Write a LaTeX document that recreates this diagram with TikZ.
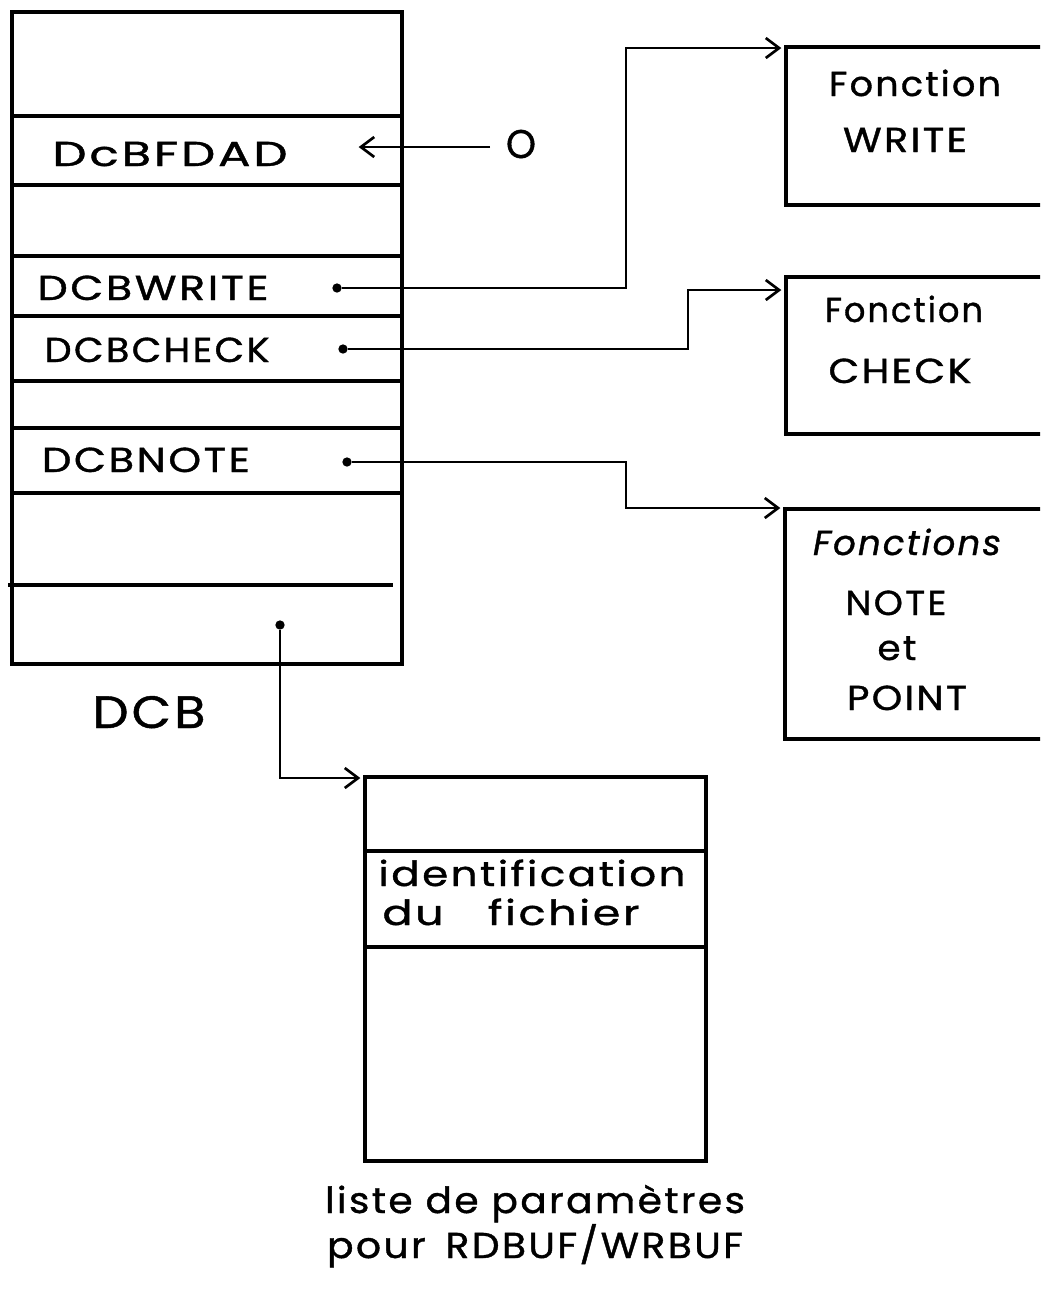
\documentclass[tikz,border=0pt]{standalone}
\usepackage{fontspec}
\setmainfont{Poppins}
\usetikzlibrary{arrows.meta,calc}
\newlength\pxu
\setlength\pxu{0.75pt}
\newcommand\fitw[2]{\resizebox{#1\pxu}{\height}{#2}}
\begin{document}
\begin{tikzpicture}[x=0.75pt,y=-0.75pt,
  box/.style={draw, line width=2.7pt, rectangle, inner sep=0pt, anchor=north west},
  rowline/.style={line width=2.3pt},
  conn/.style={line width=2pt},
  arr/.style={conn, shorten >=2pt, -{Straight Barb[length=10pt,width=15pt,line width=2pt]}},
  dotn/.style={circle, fill, inner sep=0pt, minimum size=7pt},
  txt/.style={inner sep=0pt, anchor=base, font={\fontsize{#1}{#1}\selectfont\addfontfeatures{LetterSpace=6,FakeBold=1}}},
  txt/.default=26,
]
\useasboundingbox (0,0) rectangle (1040,1297);
\clip (0,0) rectangle (1040,1297);

% DCB block
\node[box, minimum width=390*\pxu, minimum height=652*\pxu] (dcb) at (10,10) {};
\draw[rowline] (10,116) -- (400,116);
\draw[rowline] (10,185) -- (400,185);
\draw[rowline] (10,256) -- (400,256);
\draw[rowline] (10,316) -- (400,316);
\draw[rowline] (10,381) -- (400,381);
\draw[rowline] (10,428) -- (400,428);
\draw[rowline] (10,493) -- (400,493);
\draw[rowline] (8,585) -- (393,585);

\node[txt] (fdad) at (170,166) {\fitw{235}{DcBFDAD}};
\node[txt] (lwrite) at (153,300) {\fitw{231}{DCBWRITE}};
\node[txt] (lcheck) at (157,362) {\fitw{225}{DCBCHECK}};
\node[txt] (lnote) at (146,472) {\fitw{208}{DCBNOTE}};
\node[txt=34] (dcblab) at (149,728) {\fitw{113}{DCB}};

% zero arrow
\node[txt=30] (zero) at (521,158) {\fitw{30}{O}};
\coordinate (ot) at (356,147);
\coordinate (os) at (490,147);
\draw[arr] (os) -- (ot);

% function boxes
\node[box, minimum width=260*\pxu, minimum height=158*\pxu] (fw) at (784,45) {};
\node[box, minimum width=260*\pxu, minimum height=157*\pxu] (fc) at (784,275) {};
\node[box, minimum width=261*\pxu, minimum height=230*\pxu] (fn) at (783,507) {};

\node[txt] (fw1) at (915,96) {\fitw{172}{Fonction}};
\node[txt] (fw2) at (905,152) {\fitw{124}{WRITE}};
\node[txt] (fc1) at (904,322) {\fitw{158}{Fonction}};
\node[txt] (fc2) at (900,383) {\fitw{143}{CHECK}};
\node[txt] (fn1) at (907,555) {\fitw{188}{\itshape Fonctions}};
\node[txt] (fn2) at (896,615) {\fitw{101}{NOTE}};
\node[txt] (fn3) at (897,660) {\fitw{39}{et}};
\node[txt] (fn4) at (907,710) {\fitw{120}{POINT}};

% connectors
\node[dotn] (dw) at (337,288) {};
\coordinate (bw) at (626,48);
\draw[arr] (dw) -| (bw) -- (bw -| fw.west);

\node[dotn] (dc) at (343,349) {};
\coordinate (bc) at (688,290);
\draw[arr] (dc) -| (bc) -- (bc -| fc.west);

\node[dotn] (dn) at (347,462) {};
\coordinate (bn) at (626,508);
\draw[arr] (dn) -| (bn) -- (bn -| fn.west);

% parameter list
\node[box, minimum width=341*\pxu, minimum height=384*\pxu] (pl) at (363,775) {};
\draw[rowline] (363,851) -- (704,851);
\draw[rowline] (363,947) -- (704,947);
\node[txt] (id1) at (532,886) {\fitw{307}{identification}};
\node[txt] (id2) at (511,925) {\fitw{257}{du\quad fichier}};

\node[dotn] (dp) at (280,625) {};
\coordinate (bp) at (280,778);
\draw[arr] (dp) -- (bp) -- (bp -| pl.west);

\node[txt=27] (cap1) at (535,1213) {\fitw{420}{liste de paramètres}};
\node[txt=27] (cap2) at (535,1258) {\fitw{416}{pour\enspace RDBUF/WRBUF}};
\end{tikzpicture}
\end{document}
